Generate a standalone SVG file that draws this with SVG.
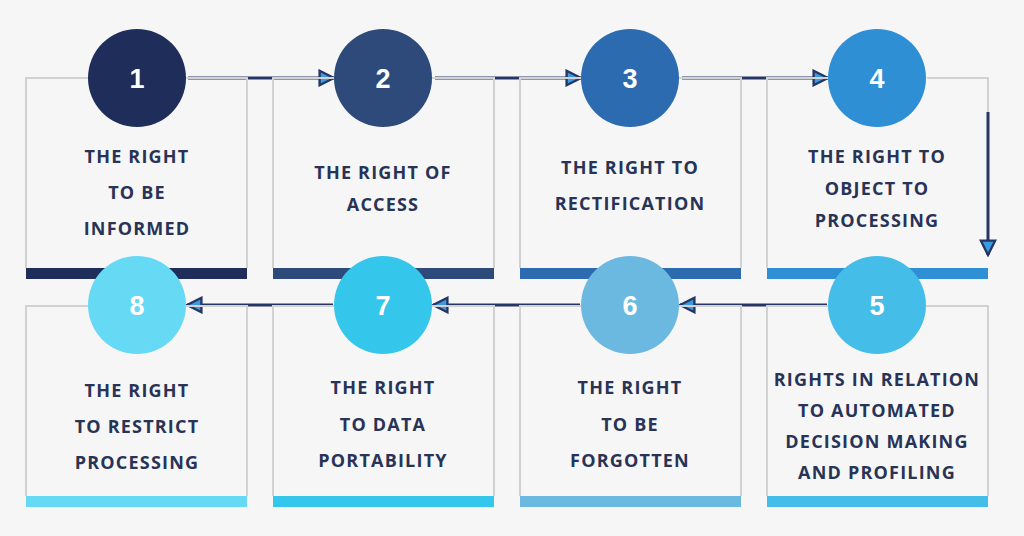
<svg xmlns="http://www.w3.org/2000/svg" width="1024" height="536" viewBox="0 0 1024 536">
<style>
.box{fill:none;stroke:#d2d2d2;stroke-width:2}
.num{font-family:"Liberation Sans",Arial,sans-serif;font-weight:bold;font-size:27px;fill:#fff;text-anchor:middle}
.lbl{font-family:"Open Sans","Liberation Sans",sans-serif;font-weight:bold;font-size:18px;fill:#283356;text-anchor:middle;letter-spacing:1.2px}
.con{stroke:#263563;stroke-width:3;fill:none;marker-end:url(#ah)}
</style>
<defs>
<marker id="ah" viewBox="0 0 10 10" refX="9" refY="5" markerWidth="6" markerHeight="6" orient="auto" markerUnits="strokeWidth">
<path d="M1,1 L9,5 L1,9 Z" fill="#3a9be0" stroke="#263563" stroke-width="1.3"/>
</marker>
</defs>
<rect width="1024" height="536" fill="#f6f6f6"/>
<g id="connectors">
<line class="con" x1="188" y1="78" x2="334" y2="78"/>
<line class="con" x1="435" y1="78" x2="581" y2="78"/>
<line class="con" x1="682" y1="78" x2="828" y2="78"/>
<polyline class="con" points="927,78 988,78 988,112 988,255" style="stroke:#d2d2d2;stroke-width:2;marker-end:none"/>
<line class="con" x1="988" y1="112" x2="988" y2="255"/>
<line class="con" x1="827" y1="305" x2="680" y2="305"/>
<line class="con" x1="580" y1="305" x2="433" y2="305"/>
<line class="con" x1="333" y1="305" x2="187" y2="305"/>
</g>
<g id="n1"><path class="box" d="M88,78 H26 V268 M186,78 H247 V268"/><rect x="26" y="268" width="221" height="11" fill="#1f2d5a"/><circle cx="137" cy="78" r="49" fill="#1f2d5a"/><text class="num" x="137" y="88">1</text>
<text class="lbl" x="137" y="163">THE RIGHT</text><text class="lbl" x="137" y="199">TO BE</text><text class="lbl" x="137" y="235">INFORMED</text></g>
<g id="n2"><path class="box" d="M334,78 H273 V268 M432,78 H494 V268"/><rect x="273" y="268" width="221" height="11" fill="#2e4a7a"/><circle cx="383" cy="78" r="49" fill="#2e4a7a"/><text class="num" x="383" y="88">2</text>
<text class="lbl" x="383" y="179">THE RIGHT OF</text><text class="lbl" x="383" y="211">ACCESS</text></g>
<g id="n3"><path class="box" d="M581,78 H520 V268 M679,78 H741 V268"/><rect x="520" y="268" width="221" height="11" fill="#2d6bb0"/><circle cx="630" cy="78" r="49" fill="#2d6bb0"/><text class="num" x="630" y="88">3</text>
<text class="lbl" x="630" y="174">THE RIGHT TO</text><text class="lbl" x="630" y="210">RECTIFICATION</text></g>
<g id="n4"><path class="box" d="M828,78 H767 V268"/><rect x="767" y="268" width="221" height="11" fill="#2e8fd4"/><circle cx="877" cy="78" r="49" fill="#2e8fd4"/><text class="num" x="877" y="88">4</text>
<text class="lbl" x="877" y="163">THE RIGHT TO</text><text class="lbl" x="877" y="195">OBJECT TO</text><text class="lbl" x="877" y="227">PROCESSING</text></g>
<g id="n5"><path class="box" d="M828,306 H767 V496 M926,306 H988 V496"/><rect x="767" y="496" width="221" height="11" fill="#45bde9"/><circle cx="877" cy="305" r="49" fill="#45bde9"/><text class="num" x="877" y="315">5</text>
<text class="lbl" x="877" y="386">RIGHTS IN RELATION</text><text class="lbl" x="877" y="417">TO AUTOMATED</text><text class="lbl" x="877" y="448">DECISION MAKING</text><text class="lbl" x="877" y="479">AND PROFILING</text></g>
<g id="n6"><path class="box" d="M581,306 H520 V496 M679,306 H741 V496"/><rect x="520" y="496" width="221" height="11" fill="#6bb9e0"/><circle cx="630" cy="305" r="49" fill="#6bb9e0"/><text class="num" x="630" y="315">6</text>
<text class="lbl" x="630" y="394">THE RIGHT</text><text class="lbl" x="630" y="431">TO BE</text><text class="lbl" x="630" y="467">FORGOTTEN</text></g>
<g id="n7"><path class="box" d="M334,306 H273 V496 M432,306 H494 V496"/><rect x="273" y="496" width="221" height="11" fill="#35c6ec"/><circle cx="383" cy="305" r="49" fill="#35c6ec"/><text class="num" x="383" y="315">7</text>
<text class="lbl" x="383" y="394">THE RIGHT</text><text class="lbl" x="383" y="431">TO DATA</text><text class="lbl" x="383" y="467">PORTABILITY</text></g>
<g id="n8"><path class="box" d="M88,306 H26 V496 M186,306 H247 V496"/><rect x="26" y="496" width="221" height="11" fill="#66d9f5"/><circle cx="137" cy="305" r="49" fill="#66d9f5"/><text class="num" x="137" y="315">8</text>
<text class="lbl" x="137" y="397">THE RIGHT</text><text class="lbl" x="137" y="433">TO RESTRICT</text><text class="lbl" x="137" y="469">PROCESSING</text></g>
</svg>
